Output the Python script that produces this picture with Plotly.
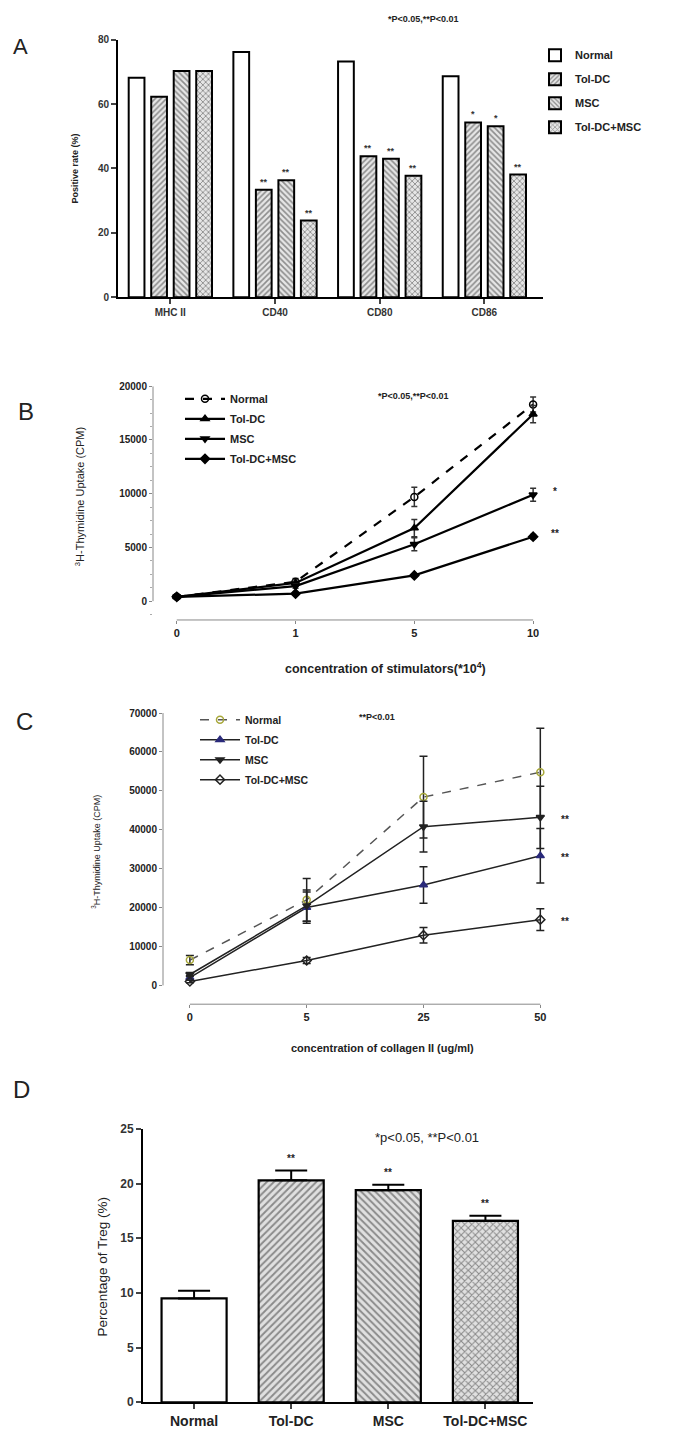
import plotly.graph_objects as go

W, H = 675, 1437
FONT = "Liberation Sans, Arial, sans-serif"

def fx(p):
    return p / W

def fy(p):
    return 1 - p / H

# ---------------- Panel A data ----------------
a_markers = ["MHC II", "CD40", "CD80", "CD86"]
a_groups = ["Normal", "Tol-DC", "MSC", "Tol-DC+MSC"]
a_normal = [68.2, 76.2, 73.2, 68.6]
a_toldc = [62.3, 33.4, 43.8, 54.3]
a_msc = [70.3, 36.3, 43.0, 53.1]
a_combo = [70.3, 23.8, 37.7, 38.1]
a_stars_normal = ["", "", "", ""]
a_stars_toldc = ["", "**", "**", "*"]
a_stars_msc = ["", "**", "**", "*"]
a_stars_combo = ["", "**", "**", "**"]

# ---------------- Panel B data ----------------
b_conc = ["0", "1", "5", "10"]
b_normal = [400, 1800, 9700, 18300]
b_normal_err = [100, 300, 900, 700]
b_toldc = [400, 1700, 6800, 17400]
b_toldc_err = [100, 300, 800, 800]
b_msc = [400, 1400, 5300, 9900]
b_msc_err = [100, 200, 600, 600]
b_combo = [400, 700, 2400, 6000]
b_combo_err = [50, 100, 150, 200]
b_stars = {"MSC": "*", "Tol-DC+MSC": "**"}

# ---------------- Panel C data ----------------
c_conc = ["0", "5", "25", "50"]
c_normal = [6500, 22000, 48400, 54800]
c_normal_err = [1200, 5500, 10500, 11300]
c_toldc = [2000, 20000, 25800, 33300]
c_toldc_err = [500, 4000, 4700, 7000]
c_msc = [2800, 20500, 40800, 43200]
c_msc_err = [500, 4000, 6500, 8000]
c_combo = [1000, 6400, 12900, 16900]
c_combo_err = [300, 800, 2000, 2800]
c_stars = {"Tol-DC": "**", "MSC": "**", "Tol-DC+MSC": "**"}

# ---------------- Panel D data ----------------
d_groups = ["Normal", "Tol-DC", "MSC", "Tol-DC+MSC"]
d_values = [9.5, 20.3, 19.4, 16.6]
d_err = [0.7, 0.9, 0.5, 0.45]
d_stars = ["", "**", "**", "**"]

patterns = {"Normal": "", "Tol-DC": "/", "MSC": "\\", "Tol-DC+MSC": "x"}

BARGAP, BARGROUPGAP = 0.14, 0.3

fig = go.Figure()

# ---------- Panel A bars ----------
a_series = [("Normal", a_normal, a_stars_normal),
            ("Tol-DC", a_toldc, a_stars_toldc),
            ("MSC", a_msc, a_stars_msc),
            ("Tol-DC+MSC", a_combo, a_stars_combo)]
slot = (1 - BARGAP) / len(a_series)
for i, (name, vals, stars) in enumerate(a_series):
    fig.add_trace(go.Bar(
        x=a_markers, y=vals, name=name, xaxis="x", yaxis="y",
        legend="legend", legendgroup="a" + name,
        marker=dict(color="white", line=dict(color="black", width=2),
                    pattern=dict(shape=patterns[name], fgcolor="#333",
                                 bgcolor="#e6e6e6" if name != "Normal" else "white",
                                 size=4, solidity=0.4)),
    ))
    offset = -(1 - BARGAP) / 2 + slot * (i + 0.5)
    for j, (v, s) in enumerate(zip(vals, stars)):
        if s:
            fig.add_annotation(x=j + offset, y=v, xref="x", yref="y", text=s,
                               showarrow=False, yshift=8,
                               font=dict(size=9, family=FONT, color="#333", weight="bold"))

# ---------- Panel B lines ----------
b_series = [("Normal", b_normal, b_normal_err, "circle-open", "dash"),
            ("Tol-DC", b_toldc, b_toldc_err, "triangle-up", "solid"),
            ("MSC", b_msc, b_msc_err, "triangle-down", "solid"),
            ("Tol-DC+MSC", b_combo, b_combo_err, "diamond", "solid")]
for name, vals, err, sym, dash in b_series:
    fig.add_trace(go.Scatter(
        x=b_conc, y=vals, name=name, xaxis="x2", yaxis="y2",
        legend="legend2", legendgroup="b" + name,
        mode="lines+markers",
        line=dict(color="black", width=2.2, dash=dash),
        marker=dict(symbol=sym, size=7, color="black",
                    line=dict(color="black", width=1.5)),
        error_y=dict(type="data", array=err, color="#333", thickness=1.5, width=3),
    ))
    if name in b_stars:
        fig.add_annotation(x=len(b_conc) - 1, y=vals[-1], xref="x2", yref="y2",
                           text=b_stars[name], showarrow=False, xshift=22, yshift=3,
                           font=dict(size=10, family=FONT, color="#222", weight="bold"))

# ---------- Panel C lines ----------
c_series = [("Normal", c_normal, c_normal_err, "circle-open", "dash", "#a8a83a", "#555"),
            ("Tol-DC", c_toldc, c_toldc_err, "triangle-up", "solid", "#2a2a7a", "#222"),
            ("MSC", c_msc, c_msc_err, "triangle-down", "solid", "#222", "#222"),
            ("Tol-DC+MSC", c_combo, c_combo_err, "diamond-open", "solid", "#222", "#222")]
for name, vals, err, sym, dash, mcol, lcol in c_series:
    fig.add_trace(go.Scatter(
        x=c_conc, y=vals, name=name, xaxis="x3", yaxis="y3",
        legend="legend3", legendgroup="c" + name,
        mode="lines+markers",
        line=dict(color=lcol, width=1.5, dash=dash),
        marker=dict(symbol=sym, size=7, color=mcol,
                    line=dict(color=mcol, width=1.5)),
        error_y=dict(type="data", array=err, color="#222", thickness=1.5, width=4),
    ))
    if name in c_stars:
        fig.add_annotation(x=len(c_conc) - 1, y=vals[-1], xref="x3", yref="y3",
                           text=c_stars[name], showarrow=False, xshift=25, yshift=-2,
                           font=dict(size=10, family=FONT, color="#222", weight="bold"))

# ---------- Panel D bars ----------
fig.add_trace(go.Bar(
    x=d_groups, y=d_values, xaxis="x4", yaxis="y4", showlegend=False, width=0.67,
    marker=dict(color="white", line=dict(color="black", width=2.2),
                pattern=dict(shape=[patterns[g] for g in d_groups], fgcolor="#333",
                             bgcolor="#e0e0e0", size=5, solidity=0.38)),
    error_y=dict(type="data", array=d_err, symmetric=False, arrayminus=[0] * 4,
                 color="black", thickness=2, width=16),
))
for j, (v, e, s) in enumerate(zip(d_values, d_err, d_stars)):
    if s:
        fig.add_annotation(x=j, y=v + e, xref="x4", yref="y4", text=s, showarrow=False,
                           yshift=12, font=dict(size=10, family=FONT, color="#222", weight="bold"))

# ---------- Axes ----------
tick_common = dict(ticks="outside", showgrid=False, zeroline=False)

layout = dict(
    width=W, height=H, margin=dict(l=0, r=0, t=0, b=0),
    paper_bgcolor="white", plot_bgcolor="white",
    font=dict(family=FONT, color="#222"),
    barmode="group", bargap=BARGAP, bargroupgap=BARGROUPGAP,
    # Panel A
    xaxis=dict(domain=[fx(118), fx(543)], anchor="y", range=[-0.5, 3.56],
               showline=True, linecolor="black", linewidth=2, ticklen=5, tickwidth=2,
               tickfont=dict(size=10, weight="bold", color="#333"), **tick_common),
    yaxis=dict(domain=[fy(293), fy(33)], anchor="x", range=[0, 80], tickvals=[0, 20, 40, 60, 80],
               showline=True, linecolor="black", linewidth=2, ticklen=5, tickwidth=2,
               tickfont=dict(size=10, weight="bold", color="#333"), **tick_common),
    # Panel B
    xaxis2=dict(domain=[fx(153), fx(545)], anchor="y2", type="category", range=[-0.2, 3.1],
                showline=False, ticklen=3, tickwidth=1, tickcolor="#888",
                tickfont=dict(size=11, weight="bold", color="#222"), **tick_common),
    yaxis2=dict(domain=[fy(619), fy(383)], anchor="x2", range=[-1750, 20000],
                tickvals=[0, 5000, 10000, 15000, 20000], tickformat="d", showline=False,
                ticklen=3, tickwidth=1, tickcolor="#888",
                minor=dict(dtick=1250, ticklen=2, tickcolor="#aaa", ticks="outside"),
                tickfont=dict(size=10, weight="bold", color="#222"), **tick_common),
    # Panel C
    xaxis3=dict(domain=[fx(163), fx(552)], anchor="y3", type="category", range=[-0.23, 3.1],
                showline=False, ticklen=3, tickwidth=1, tickcolor="#888",
                tickfont=dict(size=11, weight="bold", color="#222"), **tick_common),
    yaxis3=dict(domain=[fy(1007), fy(713)], anchor="x3", range=[-4830, 70000],
                tickvals=[0, 10000, 20000, 30000, 40000, 50000, 60000, 70000], tickformat="d",
                showline=False, ticklen=3, tickwidth=1, tickcolor="#888",
                tickfont=dict(size=10, weight="bold", color="#222"), **tick_common),
    # Panel D
    xaxis4=dict(domain=[fx(143), fx(533)], anchor="y4", range=[-0.526, 3.49],
                showline=True, linecolor="black", linewidth=2, ticklen=5, tickwidth=2,
                tickfont=dict(size=14, weight="bold", color="#222"), **tick_common),
    yaxis4=dict(domain=[fy(1409), fy(1133)], anchor="x4", range=[0, 25],
                tickvals=[0, 5, 10, 15, 20, 25], showline=True, linecolor="black",
                linewidth=2, ticklen=5, tickwidth=2,
                tickfont=dict(size=12, weight="bold", color="#333"), **tick_common),
    legend=dict(x=fx(535), y=fy(34), xanchor="left", yanchor="top", bgcolor="rgba(0,0,0,0)",
                font=dict(size=11, weight="bold", family=FONT, color="#222"),
                tracegroupgap=5, itemwidth=30),
    legend2=dict(x=fx(180), y=fy(381), xanchor="left", yanchor="top", bgcolor="rgba(0,0,0,0)",
                 font=dict(size=11, weight="bold", family=FONT, color="#222"),
                 tracegroupgap=1, itemwidth=40),
    legend3=dict(x=fx(195), y=fy(705), xanchor="left", yanchor="top", bgcolor="rgba(0,0,0,0)",
                 font=dict(size=10.5, weight="bold", family=FONT, color="#222"),
                 tracegroupgap=1, itemwidth=40),
)
fig.update_layout(**layout)

# Prism-style offset axis lines for B and C
for xa, ya, n, top in [("x2", "y2", len(b_conc) - 1, 20000), ("x3", "y3", len(c_conc) - 1, 70000)]:
    fig.add_shape(type="line", xref=xa + " domain", yref=ya, x0=0, x1=0, y0=0, y1=top,
                  line=dict(color="#888", width=1))
    fig.add_shape(type="line", xref=xa, yref=ya + " domain", x0=0, x1=n, y0=0, y1=0,
                  line=dict(color="#888", width=1))

# Text annotations
def ann(text, x, y, size, angle=0, bold=True, anchor="center"):
    fig.add_annotation(text=text, x=fx(x), y=fy(y), xref="paper", yref="paper",
                       showarrow=False, textangle=angle, xanchor=anchor, yanchor="middle",
                       font=dict(size=size, family=FONT, color="#222",
                                 weight="bold" if bold else "normal"))

ann("A", 20, 40, 22, bold=False)
ann("B", 26, 408, 24, bold=False)
ann("C", 24, 722, 24, bold=False)
ann("D", 22, 1093, 24, bold=False)

ann("*P<0.05,**P<0.01", 423, 12, 9)
ann("Positive rate (%)", 75, 163, 9, angle=-90)

ann("*P<0.05,**P<0.01", 413, 393, 9)
ann("<sup>3</sup>H-Thymidine Uptake (CPM)", 80, 495, 11, angle=-90, bold=False)
ann("concentration of stimulators(*10<sup>4</sup>)", 385, 667, 12.5)

ann("**P<0.01", 377, 717, 9)
ann("<sup>3</sup>H-Thymidine Uptake (CPM)", 96, 853, 9, angle=-90, bold=False)
ann("concentration of collagen II (ug/ml)", 383, 1051, 11)

ann("*p<0.05, **P<0.01", 427, 1142, 13, bold=False)
ann("Percentage of Treg (%)", 103, 1272, 13.5, angle=-90, bold=False)

fig.write_html("out.html", config={"displayModeBar": False},
               post_script="document.body.style.margin='0';")
